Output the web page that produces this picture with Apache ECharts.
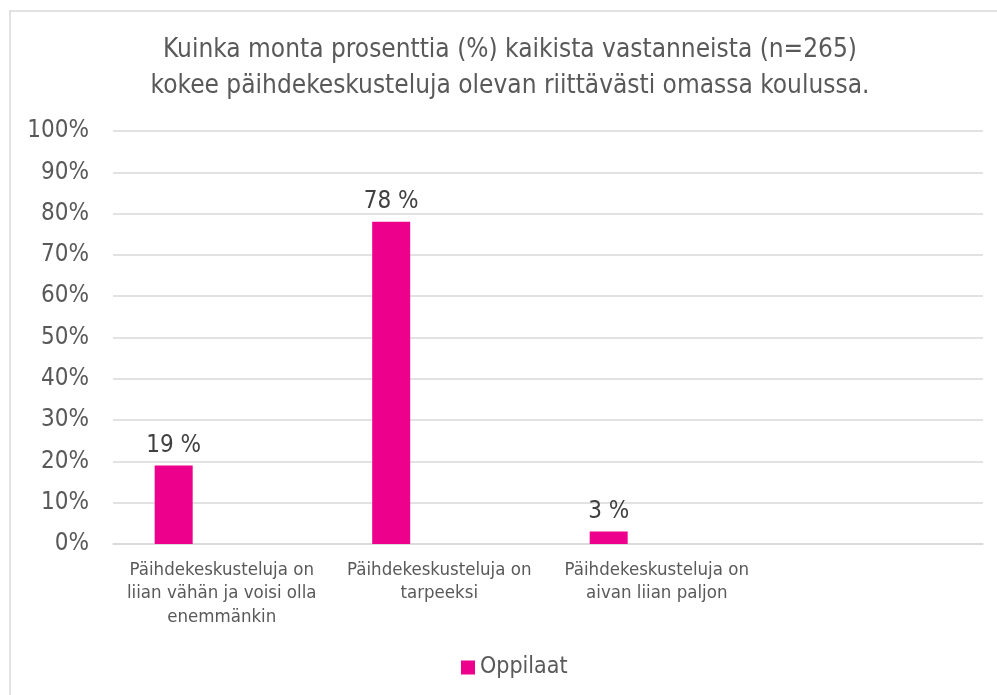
<!DOCTYPE html>
<html>
<head>
<meta charset="utf-8">
<style>html,body{margin:0;padding:0;background:#fff}#c{width:997px;height:695px}</style>
<script src="https://cdn.jsdelivr.net/npm/echarts@6/dist/echarts.min.js"></script>
</head>
<body>
<div id="c"></div>
<script>
const titleLines = ['Kuinka monta prosenttia (%) kaikista vastanneista (n=265)', 'kokee päihdekeskusteluja olevan riittävästi omassa koulussa.'];
const categories = [
  'Päihdekeskusteluja on\nliian vähän ja voisi olla\nenemmänkin',
  'Päihdekeskusteluja on\ntarpeeksi',
  'Päihdekeskusteluja on\naivan liian paljon',
  ''
];
const seriesName = 'Oppilaat';
const values = [19, 78, 3, null];
const emptyValues = [null, null, null, null];
const yTicks = [0, 10, 20, 30, 40, 50, 60, 70, 80, 90, 100];

const font = '"DejaVu Sans Condensed", "DejaVu Sans", sans-serif';
const chart = echarts.init(document.getElementById('c'), null, {renderer: 'canvas'});
chart.setOption({
  animation: false,
  backgroundColor: '#fff',
  graphic: [{
    type: 'rect', shape: {x: 10, y: 11, width: 1000, height: 700},
    style: {fill: 'none', stroke: '#d9d9d9', lineWidth: 1.5}, silent: true, z: -1
  }],
  title: {
    text: titleLines.join('\n'),
    left: 505, top: 27, textAlign: 'center',
    textStyle: {fontFamily: font, fontSize: 26, fontWeight: 'normal', color: '#595959', lineHeight: 36}
  },
  legend: {
    data: [seriesName], left: 456, top: 651,
    itemWidth: 14, itemHeight: 14, itemGap: 10,
    icon: 'rect',
    textStyle: {fontFamily: font, fontSize: 23, color: '#595959'}
  },
  grid: {left: 113, right: 14, top: 131, bottom: 151},
  xAxis: {
    type: 'category', data: categories,
    axisLine: {lineStyle: {color: '#d9d9d9', width: 1.5}},
    axisTick: {show: false},
    axisLabel: {interval: 0, margin: 14, fontFamily: font, fontSize: 18.5, color: '#595959', lineHeight: 23.5}
  },
  yAxis: {
    type: 'value', min: yTicks[0], max: yTicks[yTicks.length - 1], interval: 10,
    axisLine: {show: false}, axisTick: {show: false},
    splitLine: {lineStyle: {color: '#d9d9d9', width: 1.5}},
    axisLabel: {margin: 24, fontFamily: font, fontSize: 24, color: '#595959', formatter: v => v + '%'}
  },
  series: [
    {
      name: seriesName, type: 'bar', data: values, barWidth: 38, barGap: '153%',
      itemStyle: {color: '#EC008C'},
      label: {show: true, position: 'top', distance: 8, fontFamily: font, fontSize: 24, color: '#404040',
        formatter: p => p.value + ' %'}
    },
    {
      name: 'tyhjä', type: 'bar', data: emptyValues, barWidth: 38,
      itemStyle: {color: '#EC008C'}
    }
  ]
});
</script>
</body>
</html>
